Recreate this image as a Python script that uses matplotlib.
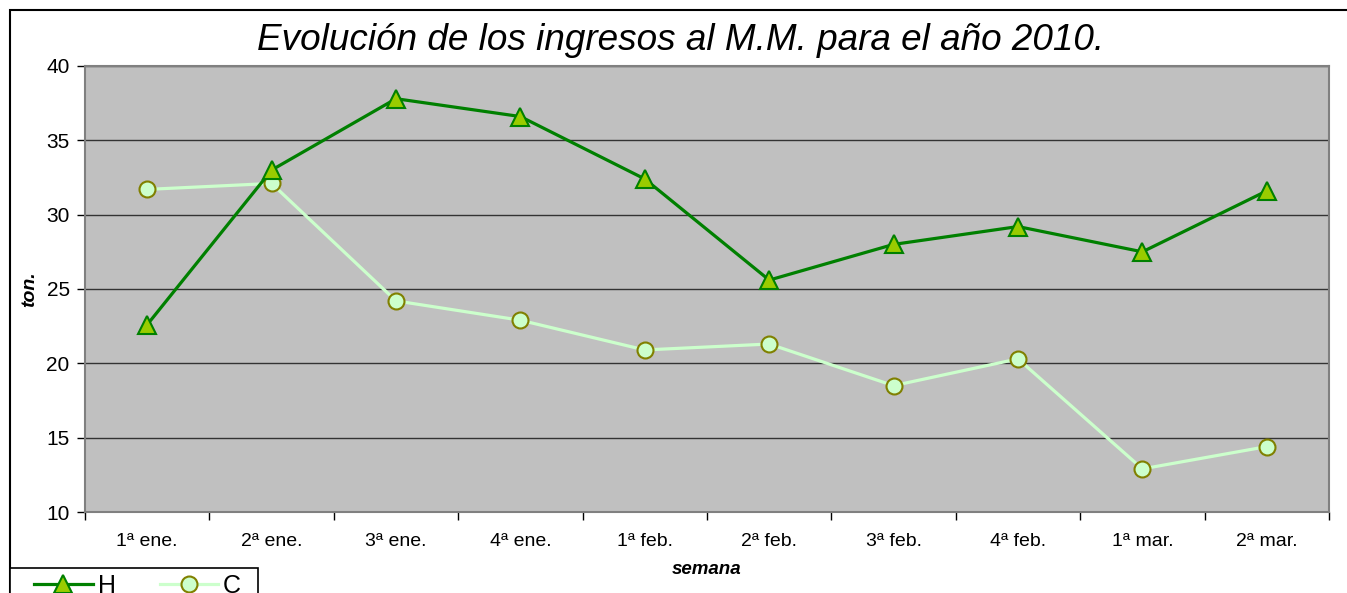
import matplotlib
matplotlib.use("Agg")
import matplotlib.pyplot as plt
from matplotlib.patches import Rectangle
import numpy as np

categories = ["1ª ene.", "2ª ene.", "3ª ene.", "4ª ene.", "1ª feb.",
              "2ª feb.", "3ª feb.", "4ª feb.", "1ª mar.", "2ª mar."]
H = [22.6, 33.0, 37.8, 36.6, 32.4, 25.6, 28.0, 29.2, 27.5, 31.6]
C = [31.7, 32.1, 24.2, 22.9, 20.9, 21.3, 18.5, 20.3, 12.9, 14.4]
yticks = [10, 15, 20, 25, 30, 35, 40]

plt.rcParams['font.family'] = ['Liberation Sans', 'DejaVu Sans']

W, Hpx = 1347, 593
fig = plt.figure(figsize=(W / 100, Hpx / 100), dpi=100)
ax = fig.add_axes([85 / W, 1 - 512 / Hpx, (1329 - 85) / W, (512 - 66) / Hpx])

# figure border
fig.patches.append(Rectangle((10 / W, -0.1), 1.2, 1 - 10 / Hpx + 0.1,
                             transform=fig.transFigure, fill=False,
                             edgecolor='black', linewidth=1.5, zorder=0))
# legend frame
fig.patches.append(Rectangle((10 / W, -0.1), (258 - 10) / W, 1 - 568 / Hpx + 0.1,
                             transform=fig.transFigure, fill=True,
                             facecolor='white', edgecolor='black',
                             linewidth=1.2, zorder=1))

x = np.arange(len(categories))
ax.set_facecolor('#C0C0C0')
for s in ax.spines.values():
    s.set_color('#808080')
    s.set_linewidth(1.5)

ax.set_xlim(-0.5, len(categories) - 0.5)
ax.set_ylim(10, 40)
ax.set_yticks(yticks)
ax.yaxis.grid(True, color='#333333', linewidth=1)
ax.set_axisbelow(True)

ax.plot(x, C, color='#CCFFCC', linewidth=2.3, marker='o', markersize=11.5,
        markerfacecolor='#CCFFCC', markeredgecolor='#808000',
        markeredgewidth=1.5, label='C', zorder=3)
ax.plot(x, H, color='#008000', linewidth=2.3, marker='^', markersize=12.5,
        markerfacecolor='#99CC00', markeredgecolor='#008000',
        markeredgewidth=1.5, label='H', zorder=4)

ax.set_xticks(np.arange(-0.5, len(categories), 1.0))
ax.set_xticklabels([])
ax.set_xticks(x, minor=True)
ax.set_xticklabels(categories, minor=True, fontsize=14)
ax.tick_params(axis='x', which='minor', length=0, pad=15)
ax.tick_params(axis='x', which='major', length=6, width=1, color='black')
ax.tick_params(axis='y', length=6, width=1, color='black', labelsize=15, pad=5)

ax.set_ylabel('ton.', fontsize=14, fontweight='bold', fontstyle='italic', labelpad=6)
ax.set_xlabel('semana', fontsize=13.5, fontweight='bold', fontstyle='italic', labelpad=8)

fig.text(681 / W, 1 - 40 / Hpx, 'Evolución de los ingresos al M.M. para el año 2010.',
         ha='center', va='center', fontsize=26.6, fontstyle='italic')

handles, labels = ax.get_legend_handles_labels()
leg = fig.legend([handles[1], handles[0]], ['H', 'C'], ncol=2,
                 loc='center left', bbox_to_anchor=(34 / W, 1 - 586 / Hpx),
                 frameon=False, fontsize=18, handlelength=2.35,
                 columnspacing=1.75, borderaxespad=0, borderpad=0,
                 handletextpad=0.2)
leg.set_zorder(2)

fig.savefig('out.png', dpi=100)
